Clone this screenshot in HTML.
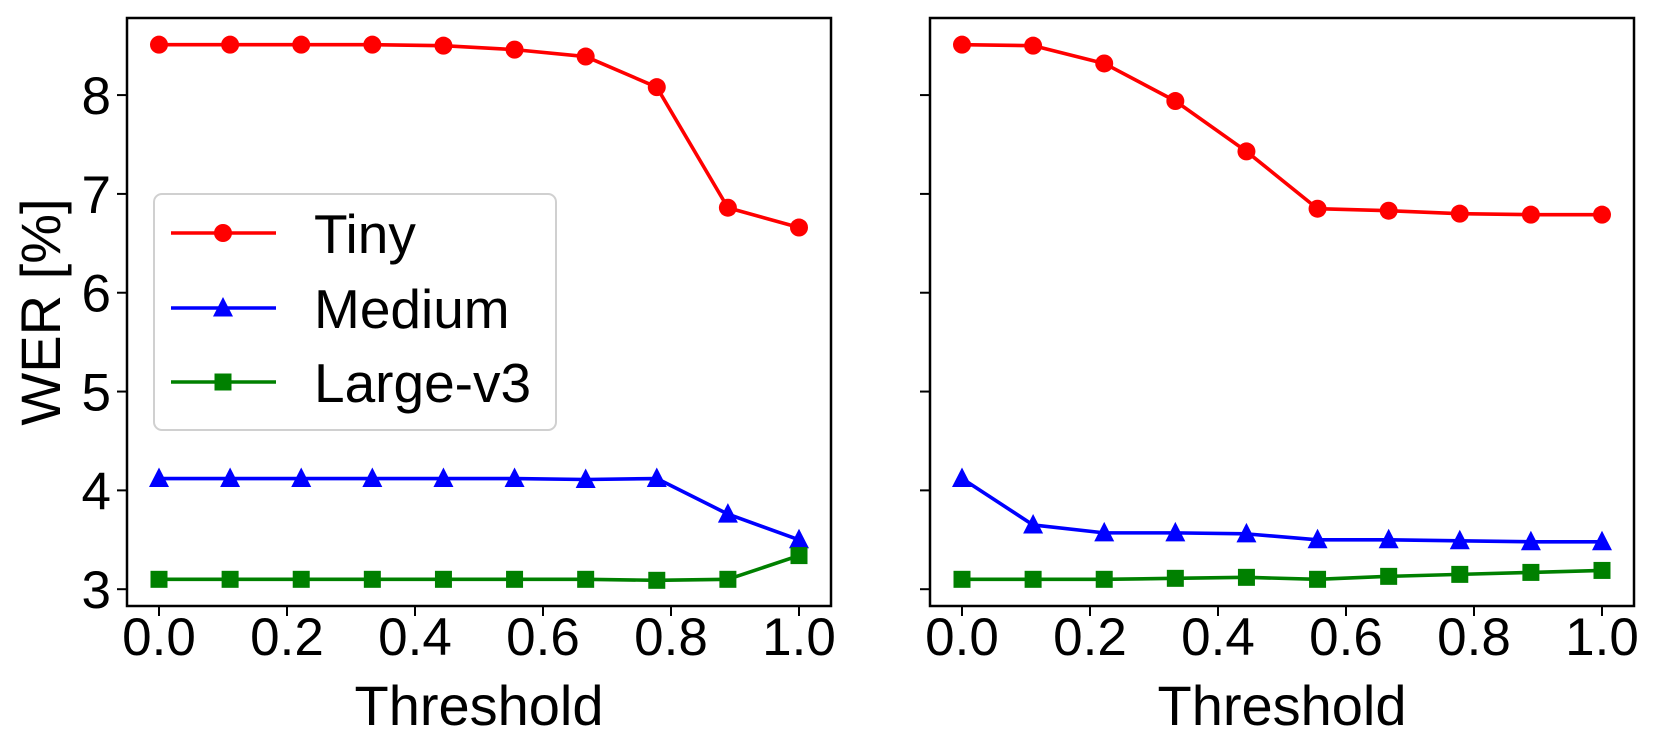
<!DOCTYPE html>
<html><head><meta charset="utf-8"><style>
html,body{margin:0;padding:0;background:#fff;}
svg{display:block;font-family:"Liberation Sans","DejaVu Sans",sans-serif;}
</style></head><body>
<svg id="chart" width="1661" height="750" viewBox="0 0 1661 750" xmlns="http://www.w3.org/2000/svg"></svg>
<script>
const thresholds = [0, 1/9, 2/9, 3/9, 4/9, 5/9, 6/9, 7/9, 8/9, 1];
const xTicks = [0, 0.2, 0.4, 0.6, 0.8, 1.0];
const xTickLabels = ["0.0","0.2","0.4","0.6","0.8","1.0"];
const yTicks = [3,4,5,6,7,8];
const yTickLabels = ["3","4","5","6","7","8"];
const seriesNames = ["Tiny","Medium","Large-v3"];
const leftTiny = [8.51,8.51,8.51,8.51,8.50,8.46,8.39,8.08,6.86,6.66];
const leftMedium = [4.12,4.12,4.12,4.12,4.12,4.12,4.11,4.12,3.76,3.50];
const leftLarge = [3.10,3.10,3.10,3.10,3.10,3.10,3.10,3.09,3.10,3.34];
const rightTiny = [8.51,8.50,8.32,7.94,7.43,6.85,6.83,6.80,6.79,6.79];
const rightMedium = [4.12,3.65,3.57,3.57,3.56,3.50,3.50,3.49,3.48,3.48];
const rightLarge = [3.10,3.10,3.10,3.11,3.12,3.10,3.13,3.15,3.17,3.19];

const NS="http://www.w3.org/2000/svg";
const svg=document.getElementById('chart');
function mk(tag,attrs,parent){const e=document.createElementNS(NS,tag);for(const k in attrs)e.setAttribute(k,attrs[k]);(parent||svg).appendChild(e);return e;}
const colors=["#ff0000","#0000ff","#008000"];
const markers=["circle","triangle","square"];
const plotTop=18,plotBottom=606,yMin=2.83,yMax=8.78;
function yS(v){return plotBottom-(v-yMin)/(yMax-yMin)*(plotBottom-plotTop);}
function drawMarker(g,type,x,y,color){
  let m;
  if(type==="circle"){m=mk('circle',{cx:x,cy:y,r:9,fill:color},g);}
  else if(type==="triangle"){m=mk('polygon',{points:`${x},${y-11} ${x-10},${y+8.5} ${x+10},${y+8.5}`,fill:color},g);}
  else {m=mk('rect',{x:x-8.5,y:y-8.5,width:17,height:17,fill:color},g);}
  
  
}
function panel(name,left,right,series,showY){
  const g=mk('g',{});
  
  
  const w=right-left;
  const xS=v=>left+w*(0.05+v)/1.1;
  series.forEach((s,si)=>{
    const sg=mk('g',{},g);
    
    
    const pts=s.map((v,i)=>xS(thresholds[i])+','+yS(v)).join(' ');
    const pl=mk('polyline',{points:pts,fill:'none',stroke:colors[si],'stroke-width':3.6,'stroke-linejoin':'round'},sg);
    
    
    s.forEach((v,i)=>drawMarker(sg,markers[si],xS(thresholds[i]),yS(v),colors[si]));
  });
  const fr=mk('rect',{x:left,y:plotTop,width:w,height:plotBottom-plotTop,fill:'none',stroke:'#000','stroke-width':2.5},g);
  
  
  xTicks.forEach((t,i)=>{
    const x=xS(t);
    mk('line',{x1:x,y1:plotBottom,x2:x,y2:plotBottom+10,stroke:'#000','stroke-width':2},g);
    const tx=mk('text',{x:x,y:655,'font-size':53,'text-anchor':'middle',fill:'#000'},g);
    tx.textContent=xTickLabels[i];
    
    
  });
  yTicks.forEach((t,i)=>{
    const y=yS(t);
    mk('line',{x1:left,y1:y,x2:left-10,y2:y,stroke:'#000','stroke-width':2},g);
    if(showY){
      const ty=mk('text',{x:left-16,y:y+19,'font-size':53,'text-anchor':'end',fill:'#000'},g);
      ty.textContent=yTickLabels[i];
      
      
    }
  });
  const xl=mk('text',{x:(left+right)/2,y:725,'font-size':56,'text-anchor':'middle',fill:'#000'},g);
  xl.textContent='Threshold';
  
  
}
panel('left-panel',127,831,[leftTiny,leftMedium,leftLarge],true);
panel('right-panel',930,1634,[rightTiny,rightMedium,rightLarge],false);
const yl=mk('text',{x:0,y:0,'font-size':56,'text-anchor':'middle',fill:'#000',transform:'translate(60,312) rotate(-90)'});
yl.textContent='WER [%]';


const lg=mk('g',{});


mk('rect',{x:154,y:194,width:402,height:236,rx:8,fill:'#fff','fill-opacity':0.8,stroke:'#d0d0d0','stroke-width':2},lg);
const rows=[233,308,382];
seriesNames.forEach((n,i)=>{
  const eg=mk('g',{},lg);
  
  
  mk('line',{x1:171,y1:rows[i],x2:276,y2:rows[i],stroke:colors[i],'stroke-width':3.6},eg);
  drawMarker(eg,markers[i],223,rows[i],colors[i]);
  const t=mk('text',{x:314,y:rows[i]+20,'font-size':55,fill:'#000'},eg);
  t.textContent=n;
});
</script>
</body></html>
